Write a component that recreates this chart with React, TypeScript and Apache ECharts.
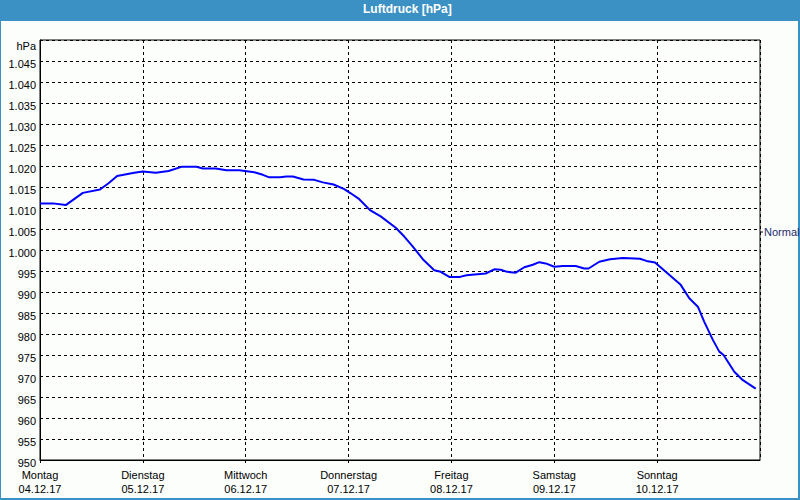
import React, { useEffect, useRef } from "react";
import * as echarts from "echarts";

// time in hours since Montag 04.12.17 00:00
const hours = [
  0, 3, 6, 10, 14, 16, 18, 22, 24, 27, 30, 33, 36.5, 38, 41, 43.5, 46.5, 50, 52, 53.5,
  56, 57.5, 59, 61.5, 64, 66, 68.5, 71, 72.5, 74.5, 77, 79.5, 83, 85, 87, 89.5, 92,
  93.5, 95.5, 98, 99.5, 104, 106, 107.5, 109, 111, 113, 115, 116.5, 118, 120, 122,
  125, 127, 128, 130.5, 133, 136, 140, 141.5, 143.5, 146, 149.5, 151.5, 153.5, 155,
  157, 158.5, 159.5, 162, 164, 167,
];
const pressure = [
  1011.1, 1011.1, 1010.7, 1013.6, 1014.4, 1015.9, 1017.6, 1018.4, 1018.7, 1018.4,
  1018.8, 1019.8, 1019.8, 1019.4, 1019.4, 1019.0, 1019.0, 1018.5, 1017.9, 1017.3,
  1017.3, 1017.5, 1017.5, 1016.8, 1016.7, 1016.1, 1015.6, 1014.5, 1013.5, 1012.1,
  1009.5, 1008.0, 1005.3, 1003.2, 1000.8, 997.6, 995.2, 994.8, 993.6, 993.6, 994.0,
  994.4, 995.4, 995.3, 994.8, 994.6, 995.9, 996.5, 997.1, 996.8, 996.0, 996.2,
  996.2, 995.6, 995.6, 997.2, 997.8, 998.1, 997.9, 997.4, 997.0, 994.8, 991.7,
  988.5, 986.5, 982.9, 978.6, 975.8, 975.0, 971.0, 969.0, 967.0,
];
const dayNames = ["Montag", "Dienstag", "Mittwoch", "Donnerstag", "Freitag", "Samstag", "Sonntag"];
const dates = ["04.12.17", "05.12.17", "06.12.17", "07.12.17", "08.12.17", "09.12.17", "10.12.17"];
const normalPressure = 1004.4;
const yMin = 950;
const yMax = 1050;

const FONT = "Liberation Sans";

export default function App() {
  const ref = useRef<HTMLDivElement>(null);
  useEffect(() => {
    if (!ref.current) return;
    const chart = echarts.init(ref.current, undefined, { renderer: "svg" });
    const data = hours.map((h, i) => [h, pressure[i]]);
    chart.setOption({
      animation: false,
      backgroundColor: "#fcfefc",
      title: {
        text: "Luftdruck [hPa]",
        left: 363,
        top: 3,
        padding: 0,
        z: 10,
        textStyle: { color: "#ffffff", fontFamily: FONT, fontWeight: "bold", fontSize: 12 },
      },
      graphic: [
        { type: "rect", z: 1, shape: { x: 0, y: 0, width: 800, height: 21 }, style: { fill: "#3b91c4" } },
        { type: "rect", z: 1, shape: { x: 0, y: 0, width: 1, height: 500 }, style: { fill: "#3b91c4" } },
        { type: "rect", z: 1, shape: { x: 798, y: 0, width: 2, height: 500 }, style: { fill: "#3b91c4" } },
        { type: "rect", z: 1, shape: { x: 0, y: 498, width: 800, height: 2 }, style: { fill: "#3b91c4" } },
        { type: "line", z: 5, shape: { x1: 760, y1: 232, x2: 763, y2: 232 }, style: { stroke: "#000", lineWidth: 1 } },
      ],
      grid: {
        left: 40,
        top: 40,
        width: 720,
        height: 420,
        show: true,
        borderColor: "#000",
        borderWidth: 1,
        backgroundColor: "transparent",
      },
      xAxis: {
        type: "value",
        min: 0,
        max: 168,
        interval: 24,
        axisLine: { show: true, lineStyle: { color: "#000", width: 1 } },
        axisTick: { show: true, inside: false, length: 3, lineStyle: { color: "#000" } },
        splitLine: { show: true, lineStyle: { color: "#000", width: 1, type: [3, 3] } },
        axisLabel: {
          margin: 8,
          showMaxLabel: false,
          color: "#000",
          fontFamily: FONT,
          fontSize: 11,
          lineHeight: 14,
          formatter: (v: number) => {
            const i = Math.round(v / 24);
            if (i < 0 || i >= dayNames.length) return "";
            return dayNames[i] + "\n" + dates[i];
          },
        },
      },
      yAxis: {
        type: "value",
        min: yMin,
        max: yMax,
        interval: 5,
        axisLine: { show: true, lineStyle: { color: "#000", width: 1 } },
        axisTick: { show: false },
        splitLine: { show: true, lineStyle: { color: "#000", width: 1, type: [3, 3] } },
        axisLabel: {
          margin: 4,
          color: "#000",
          fontFamily: FONT,
          fontSize: 11,
          formatter: (v: number) => {
            if (v === yMax) return "{u|hPa}";
            const s = v >= 1000 ? "1." + String(v - 1000).padStart(3, "0") : String(v);
            return "{n|" + s + "}";
          },
          rich: {
            n: { fontFamily: FONT, fontSize: 11, color: "#000", padding: [5, 0, 0, 0] },
            u: { fontFamily: FONT, fontSize: 11, color: "#000", padding: [12, 0, 0, 0] },
          },
        },
      },
      series: [
        {
          type: "line",
          data,
          showSymbol: false,
          symbol: "none",
          lineStyle: { color: "#0000ff", width: 2 },
          markLine: {
            silent: true,
            symbol: "none",
            animation: false,
            lineStyle: { color: "rgba(0,0,0,0)", width: 1, type: "solid" },
            label: {
              show: true,
              position: "end",
              distance: 4,
              formatter: "Normal",
              color: "#1c2a6e",
              fontFamily: FONT,
              fontSize: 11,
            },
            data: [{ yAxis: normalPressure }],
          },
        },
      ],
    });
    return () => chart.dispose();
  }, []);
  return (
    <div style={{ position: "fixed", left: 0, top: 0, width: 800, height: 500 }}>
      <div ref={ref} style={{ width: 800, height: 500 }} />
    </div>
  );
}
